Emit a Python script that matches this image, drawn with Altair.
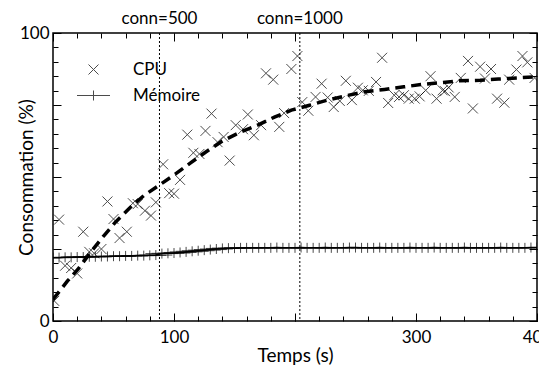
import altair as alt
import pandas as pd

FONT = "Lato"

# ---- data ----
cpu_t = [1, 5, 10, 15, 20, 25, 30, 34, 40, 45, 50, 55, 61, 66, 70, 76, 81, 85, 91, 96,
         100, 105, 111, 116, 121, 126, 131, 136, 141, 146, 151, 157, 161, 166, 172, 176,
         182, 187, 191, 197, 202, 206, 211, 217, 222, 227, 232, 237, 242, 247, 252, 256,
         261, 267, 272, 277, 282, 286, 290, 294, 299, 303, 308, 312, 317, 322, 324, 327,
         332, 337, 343, 347, 353, 357, 362, 367, 373, 377, 383, 388, 392, 398]
cpu_v = [7, 35.2, 19.2, 18.4, 16.5, 31, 24, 23.5, 25, 41.5, 35.4, 28.8, 31, 40.9, 40.6,
         38.3, 36.6, 41.2, 54.4, 44.4, 44.2, 49, 64.7, 58.4, 58, 66, 72, 62.1, 63.9, 55.7,
         68, 66.6, 71.7, 64.5, 68, 86, 83.8, 67.4, 72.2, 87.5, 92, 76, 73, 77.8, 82.4, 77.6,
         74.3, 76.4, 83.4, 76.7, 81, 80.1, 79.9, 83, 91.4, 75.7, 78.4, 77.8, 78.4, 77.2,
         77.2, 78, 80.1, 85, 77.2, 80.1, 79.8, 81.1, 77.8, 84.4, 90.3, 73.8, 88.3, 84.2,
         87.5, 77.2, 75.8, 83.8, 87.3, 92, 89.8, 84.4]

mem_t = list(range(0, 401, 5))
mem_v = [22.0, 22.0, 22.1, 22.1, 22.2, 22.2, 22.3, 22.3, 22.4, 22.4, 22.5, 22.5, 22.6,
         22.6, 22.7, 22.7, 22.8, 22.9, 23.4, 23.5, 23.6, 23.8, 24.0, 24.2, 24.4, 24.6,
         24.8, 25.0, 25.2, 25.3, 25.3, 25.4, 25.4, 25.4, 25.4, 25.4, 25.4, 25.5, 25.4,
         25.4, 25.4, 25.5, 25.4, 25.4, 25.4, 25.5, 25.4, 25.4, 25.4, 25.5, 25.5, 25.4,
         25.4, 25.4, 25.5, 25.4, 25.4, 25.4, 25.4, 25.5, 25.4, 25.4, 25.4, 25.5, 25.4,
         25.4, 25.4, 25.4, 25.5, 25.4, 25.4, 25.4, 25.4, 25.4, 25.5, 25.4, 25.4, 25.4,
         25.4, 25.5, 25.5]

fit_t = [0, 12, 21, 31, 42, 52, 64, 75, 89, 101, 114, 126, 140, 155, 170, 183, 197, 212,
         227, 242, 258, 274, 290, 304, 321, 336, 353, 368, 384, 400]
fit_v = [7.5, 13.9, 18.2, 23.8, 29.6, 34.5, 39.5, 43.5, 47.5, 51, 55, 58.6, 62.5, 65.6,
         68.2, 70.8, 73.2, 74.9, 76.7, 78.2, 79.6, 80.4, 81.3, 82.1, 82.8, 83.4, 83.6,
         84, 84.4, 84.8]

conn_t = [88, 204]
conn_labels = ["conn=500", "conn=1000"]

series = ["CPU", "Mémoire"]
x_major = [0, 100, 200, 300, 400]
x_minor = list(range(0, 401, 20))
y_major = [0, 25, 50, 75, 100]
y_minor = list(range(0, 101, 5))

df_cpu = pd.DataFrame({"t": cpu_t, "v": cpu_v, "serie": series[0]})
df_mem = pd.DataFrame({"t": mem_t, "v": mem_v, "serie": series[1]})
df_fit = pd.DataFrame({"t": fit_t, "v": fit_v})
df_conn = pd.DataFrame({"t": conn_t, "label": conn_labels})

XPATH = "M-1,-1L1,1M-1,1L1,-1"
PLUSPATH = "M-3.3,0L3.3,0M0,-1L0,1"

xs = alt.Scale(domain=[0, 400], nice=False, zero=False)
ys = alt.Scale(domain=[0, 100], nice=False, zero=False)
shape_scale = alt.Scale(domain=series, range=[XPATH, PLUSPATH])


def ax(orient, values, major, **kw):
    size = 8 if major else 5
    base = dict(orient=orient, values=values, tickSize=size, offset=-size, domain=False,
                grid=False, tickColor="black", tickWidth=1, labelFlush=False)
    if "labels" not in kw:
        base["labels"] = False
    if "title" not in kw:
        base["title"] = ""
    base.update(kw)
    return alt.Axis(**base)


X_BOT_MAJ = ax("bottom", x_major, True, labels=True,
               labelExpr="datum.value == 200 ? '' : datum.label",
               labelPadding=8, labelFontSize=17, title="Temps (s)", titleFontSize=19,
               titleFontWeight="normal", titleBaseline="middle", titleY=42)
X_BOT_MIN = ax("bottom", x_minor, False)
X_TOP_MAJ = ax("top", x_major, True)
X_TOP_MIN = ax("top", x_minor, False)
Y_LEFT_MAJ = ax("left", y_major, True, labels=True,
                labelExpr="(datum.value == 0 || datum.value == 100) ? datum.label : ''",
                labelPadding=4, labelFontSize=17, title="Consommation (%)",
                titleFontSize=19, titleFontWeight="normal", titleAngle=270,
                titleAlign="center", titleBaseline="middle", titleX=-35, titleY=144)
Y_LEFT_MIN = ax("left", y_minor, False)
Y_RIGHT_MAJ = ax("right", y_major, True)
Y_RIGHT_MIN = ax("right", y_minor, False)

legend = alt.Legend(orient="none", legendX=32, legendY=28, title=None, labelFont=FONT,
                    labelFontSize=17, labelColor="black", labelOffset=31, rowPadding=8,
                    symbolStrokeColor="black", symbolFillColor="transparent",
                    symbolStrokeWidth=1, symbolSize=100, padding=0)

cpu = alt.Chart(df_cpu).mark_point(filled=False, size=100, strokeWidth=1, color="black",
                                   clip=True).encode(
    x=alt.X("t:Q", scale=xs, axis=X_BOT_MAJ),
    y=alt.Y("v:Q", scale=ys, axis=Y_LEFT_MAJ),
    shape=alt.Shape("serie:N", scale=shape_scale, legend=legend),
)

fit = alt.Chart(df_fit).mark_line(color="black", strokeWidth=3.5, strokeDash=[10, 6],
                                  clip=True).encode(
    x=alt.X("t:Q", scale=xs, axis=X_BOT_MIN),
    y=alt.Y("v:Q", scale=ys, axis=Y_LEFT_MIN),
)

mem_line = alt.Chart(df_mem).mark_line(color="black", strokeWidth=1.5, clip=True).encode(
    x=alt.X("t:Q", scale=xs, axis=X_TOP_MAJ),
    y=alt.Y("v:Q", scale=ys, axis=Y_RIGHT_MAJ),
)

mem_pts = alt.Chart(df_mem).mark_point(filled=False, size=100, strokeWidth=1,
                                       color="black", clip=True).encode(
    x=alt.X("t:Q", scale=xs, axis=X_TOP_MIN),
    y=alt.Y("v:Q", scale=ys, axis=Y_RIGHT_MIN),
    shape=alt.Shape("serie:N", scale=shape_scale, legend=legend),
)

rules = alt.Chart(df_conn).mark_rule(color="black", strokeWidth=1,
                                     strokeDash=[2, 2]).encode(
    x=alt.X("t:Q", scale=xs, axis=None),
)

texts = alt.Chart(df_conn).mark_text(font=FONT, fontSize=17, color="black",
                                     baseline="middle", align="center").encode(
    x=alt.X("t:Q", scale=xs, axis=None),
    y=alt.value(-14),
    text="label:N",
)

chart = alt.layer(cpu, fit, mem_line, mem_pts, rules, texts).resolve_scale(
    x="shared", y="shared", shape="shared"
).resolve_axis(
    x="independent", y="independent"
).properties(
    width=484, height=288,
    padding={"left": 45, "top": 25, "right": 2, "bottom": 44},
    autosize=alt.AutoSizeParams(type="none"),
    background="white",
).configure_view(
    stroke="black", strokeWidth=1.5
).configure_axis(
    labelFont=FONT, titleFont=FONT, labelColor="black", titleColor="black",
)

chart.save("out.html", embed_options={"renderer": "svg", "actions": False})
